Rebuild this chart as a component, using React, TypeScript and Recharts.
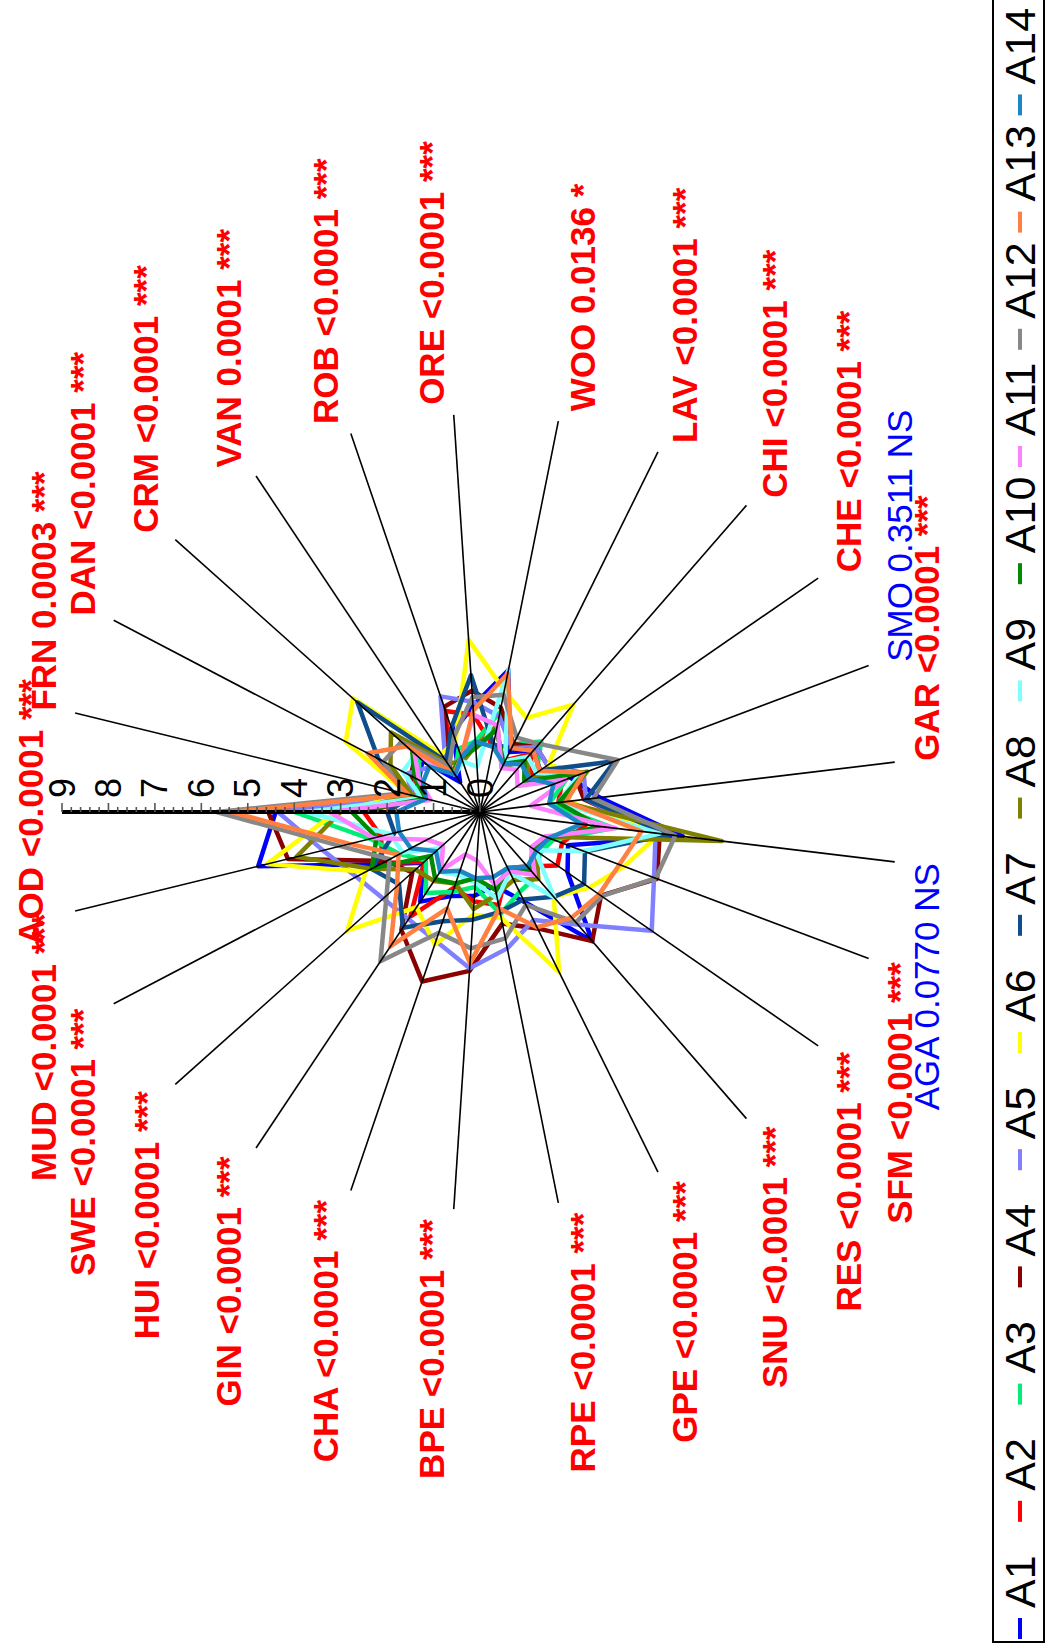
import React from 'react';
import { RadarChart, Radar, PolarAngleAxis, PolarRadiusAxis, Legend } from 'recharts';

const W = 1047;
const H = 1649;
const CX = 480;
const CY = 812;
const R = 418;
const KY = 0.952;

const CATEGORIES = ['AOD', 'FRN', 'DAN', 'CRM', 'VAN', 'ROB', 'ORE', 'WOO', 'LAV', 'CHI', 'CHE', 'SMO', 'GAR', 'AGA', 'SFM', 'RES', 'SNU', 'GPE', 'RPE', 'BPE', 'CHA', 'GIN', 'HUI', 'SWE', 'MUD'];
const P_VALUES = ['<0.0001 ***', '0.0003 ***', '<0.0001 ***', '<0.0001 ***', '0.0001 ***', '<0.0001 ***', '<0.0001 ***', '0.0136 *', '<0.0001 ***', '<0.0001 ***', '<0.0001 ***', '0.3511 NS', '<0.0001 ***', '0.0770 NS', '<0.0001 ***', '<0.0001 ***', '<0.0001 ***', '<0.0001 ***', '<0.0001 ***', '<0.0001 ***', '<0.0001 ***', '<0.0001 ***', '<0.0001 ***', '<0.0001 ***', '<0.0001 ***'];
const SIGNIFICANT = [true, true, true, true, true, true, true, true, true, true, true, false, true, false, true, true, true, true, true, true, true, true, true, true, true];

const RADIAL_LABELS = [0, 1, 2, 3, 4, 5, 6, 7, 8, 9];

const A1 = [4.4, 1.4, 1.5, 1.7, 0.8, 1.9, 2.4, 3.27, 1.5, 1.8, 1.6, 2.1, 2.6, 4.4, 2.04, 2.33, 3.79, 2.25, 1.7, 1.9, 2.0, 2.4, 1.68, 2.45, 4.93];
const A2 = [2.5, 1.3, 1.6, 1.9, 1.2, 2.4, 2.2, 1.5, 1.3, 1.7, 1.4, 1.9, 1.7, 2.3, 1.9, 2.06, 1.6, 1.4, 2.14, 2.03, 1.8, 2.8, 1.64, 2.4, 2.2];
const A3 = [4.0, 1.4, 1.5, 1.8, 1.0, 1.5, 1.6, 2.3, 1.7, 2.07, 1.5, 2.0, 1.5, 2.9, 1.7, 1.59, 1.9, 2.0, 2.35, 1.7, 1.9, 2.17, 1.6, 1.97, 2.44];
const A4 = [4.56, 1.5, 1.7, 1.9, 1.3, 2.5, 2.75, 2.4, 1.7, 1.9, 1.8, 2.2, 2.26, 3.9, 4.1, 3.22, 3.79, 2.91, 2.57, 3.6, 4.03, 3.16, 2.0, 2.3, 4.27];
const A5 = [4.35, 1.5, 1.8, 1.48, 1.4, 2.75, 2.5, 2.2, 1.6, 1.9, 1.8, 2.4, 2.3, 3.81, 4.03, 4.57, 3.3, 2.7, 3.14, 3.54, 3.07, 2.87, 2.86, 3.04, 3.49];
const A6 = [3.1, 1.6, 3.3, 3.75, 1.55, 1.7, 3.9, 2.8, 2.35, 3.15, 1.83, 2.29, 1.9, 3.9, 3.34, 2.91, 2.49, 4.0, 2.44, 2.33, 3.15, 2.55, 3.92, 2.81, 4.74];
const A7 = [2.0, 1.5, 2.5, 3.62, 1.35, 2.0, 3.1, 1.55, 1.6, 1.8, 1.6, 3.12, 2.3, 4.1, 2.43, 2.77, 2.49, 2.19, 2.3, 2.44, 2.6, 3.1, 2.39, 2.67, 1.9];
const A8 = [3.0, 1.5, 2.2, 2.63, 1.3, 1.2, 1.5, 2.0, 1.1, 1.57, 1.3, 2.48, 1.8, 5.25, 1.52, 1.5, 1.97, 1.7, 1.9, 2.2, 1.7, 1.85, 1.9, 2.66, 4.08];
const A9 = [3.73, 1.3, 1.9, 1.9, 1.0, 1.2, 1.03, 3.27, 1.27, 1.62, 1.5, 2.3, 1.7, 3.9, 2.4, 1.47, 2.5, 1.5, 2.0, 1.6, 1.5, 1.6, 1.2, 1.9, 2.0];
const A10 = [2.76, 1.2, 1.6, 2.0, 1.1, 1.3, 1.45, 1.9, 1.2, 1.5, 1.18, 2.44, 1.7, 2.6, 1.6, 1.4, 1.7, 1.4, 1.8, 1.5, 1.7, 1.8, 1.45, 2.66, 2.3];
const A11 = [3.23, 1.1, 1.5, 1.93, 1.0, 1.31, 2.2, 2.0, 1.1, 1.24, 1.0, 2.0, 1.1, 2.94, 1.5, 1.36, 1.85, 1.48, 1.67, 1.1, 1.01, 1.56, 1.09, 1.3, 2.37];
const A12 = [5.67, 1.7, 2.37, 2.32, 1.24, 1.8, 2.6, 2.7, 1.86, 2.0, 2.38, 3.19, 2.46, 4.24, 4.07, 3.24, 3.24, 2.32, 2.91, 3.09, 2.87, 4.0, 2.76, 2.22, 3.1];
const A13 = [5.35, 1.6, 2.76, 2.17, 1.04, 1.3, 2.3, 3.19, 1.6, 1.8, 1.59, 2.41, 1.87, 3.5, 3.23, 3.17, 3.1, 2.88, 2.22, 3.43, 2.29, 3.6, 2.45, 2.0, 2.9];
const A14 = [1.8, 1.2, 1.4, 1.5, 1.0, 1.3, 1.6, 1.5, 1.2, 1.4, 1.3, 1.7, 1.5, 2.2, 1.6, 1.5, 1.6, 1.4, 1.5, 1.5, 1.4, 1.6, 1.3, 1.7, 1.8];

const SERIES_NAMES = ['A1', 'A2', 'A3', 'A4', 'A5', 'A6', 'A7', 'A8', 'A9', 'A10', 'A11', 'A12', 'A13', 'A14'];
const SERIES_VALUES = [A1, A2, A3, A4, A5, A6, A7, A8, A9, A10, A11, A12, A13, A14];
const COLORS = ['#0000FF', '#FF0000', '#00EE76', '#8B0000', '#8080FF', '#FFFF00', '#104E8B', '#808000', '#80FFFF', '#008B00', '#FF80FF', '#888888', '#FF8040', '#1C86C8'];

const data = CATEGORIES.map((cat, i) => {
  const row: Record<string, any> = { cat };
  SERIES_NAMES.forEach((n, k) => {
    row[n] = SERIES_VALUES[k][i];
  });
  return row;
});

const radiusTicks: number[] = [];
for (let k = 0; k <= 45; k++) radiusTicks.push(Math.round(k * 2) / 10);

const FONT = '"Liberation Sans", Arial, Helvetica, sans-serif';

function AngleTick(props: any) {
  const { payload, index } = props;
  const ang = (payload.coordinate * Math.PI) / 180;
  const c = Math.cos(ang);
  const s = Math.sin(ang);
  const ex = CX + R * c;
  const ey = CY - R * KY * s;
  const lx = CX + (R + 10) * c + (Math.abs(c) < 1e-9 ? 0 : c < 0 ? -22 : 22);
  const ly = CY - (R * KY + 10) * s;
  const anchor = Math.abs(s) < 1e-6 ? 'middle' : s > 0 ? 'start' : 'end';
  const sig = SIGNIFICANT[index];
  return (
    <g>
      <line x1={CX} y1={CY} x2={ex} y2={ey} stroke="#000" strokeWidth={1.6} />
      <text
        x={lx}
        y={ly}
        transform={`rotate(-90 ${lx} ${ly})`}
        textAnchor={anchor}
        dominantBaseline="central"
        fontFamily={FONT}
        fontSize={35}
        fontWeight={sig ? 'bold' : 'normal'}
        fill={sig ? '#FF0000' : '#0000FF'}
      >
        {`${payload.value} ${P_VALUES[index]}`}
      </text>
    </g>
  );
}

function RadiusTick(props: any) {
  const { x, y, payload } = props;
  const v = payload.value;
  const major = Math.abs(v - Math.round(v)) < 1e-6;
  const ty = y - 24;
  return (
    <g>
      <line x1={x} y1={y} x2={x} y2={y - (major ? 9 : 5)} stroke="#555" strokeWidth={1.6} />
      {major && RADIAL_LABELS.includes(Math.round(v)) && (
        <text
          x={x}
          y={ty}
          transform={`rotate(-90 ${x} ${ty})`}
          textAnchor="middle"
          dominantBaseline="central"
          fontFamily={FONT}
          fontSize={36}
          fill="#000"
        >
          {Math.round(v)}
        </text>
      )}
    </g>
  );
}

function EllipsePolygon(props: any) {
  const { points, stroke, strokeWidth } = props;
  const pts = (points || []).map((p: any) => `${p.x},${CY + (p.y - CY) * KY}`).join(' ');
  return <polygon points={pts} fill="none" stroke={stroke} strokeWidth={strokeWidth} strokeLinejoin="round" />;
}

function LegendContent(props: any) {
  const payload = [...(props.payload || [])].sort(
    (a: any, b: any) => SERIES_NAMES.indexOf(a.value) - SERIES_NAMES.indexOf(b.value)
  );
  const TX = 32;
  return (
    <svg width={60} height={H} style={{ display: 'block' }}>
      <rect x={5} y={-10} width={51} height={1652} fill="none" stroke="#000" strokeWidth={2} />
      {payload.map((e: any, k: number) => {
        const y0 = 1608 - 117.2 * k;
        return (
          <g key={e.value}>
            <line x1={TX} y1={y0 + 10} x2={TX} y2={y0 + 31} stroke={e.color} strokeWidth={4} />
            <text
              x={TX}
              y={y0}
              transform={`rotate(-90 ${TX} ${y0})`}
              textAnchor="start"
              dominantBaseline="central"
              fontFamily={FONT}
              fontSize={43}
              fill="#000"
            >
              {e.value}
            </text>
          </g>
        );
      })}
    </svg>
  );
}

export default function App() {
  return (
    <div style={{ width: W, height: H, position: 'relative', background: '#fff' }}>
      <style>{'body{margin:0;background:#fff;}'}</style>
      <RadarChart
        width={W}
        height={H}
        data={data}
        cx={CX}
        cy={CY}
        outerRadius={R}
        startAngle={180}
        endAngle={-180}
        margin={{ top: 0, right: 0, bottom: 0, left: 0 }}
      >
        <PolarAngleAxis dataKey="cat" tick={AngleTick} tickLine={false} axisLine={false} />
        <PolarRadiusAxis
          angle={180}
          type="number"
          domain={[0, 9]}
          ticks={radiusTicks}
          tick={RadiusTick}
          tickLine={false}
          axisLine={{ stroke: '#000', strokeWidth: 4 }}
        />
        {SERIES_NAMES.map((n, k) => (
          <Radar
            key={n}
            name={n}
            dataKey={n}
            stroke={COLORS[k]}
            fill="none"
            fillOpacity={0}
            strokeWidth={4.5}
            dot={false}
            isAnimationActive={false}
            shape={EllipsePolygon}
          />
        ))}
        <Legend
          layout="vertical"
          align="right"
          verticalAlign="middle"
          content={LegendContent}
          wrapperStyle={{ left: 988, top: 0, width: 60, height: H }}
        />
      </RadarChart>
    </div>
  );
}
